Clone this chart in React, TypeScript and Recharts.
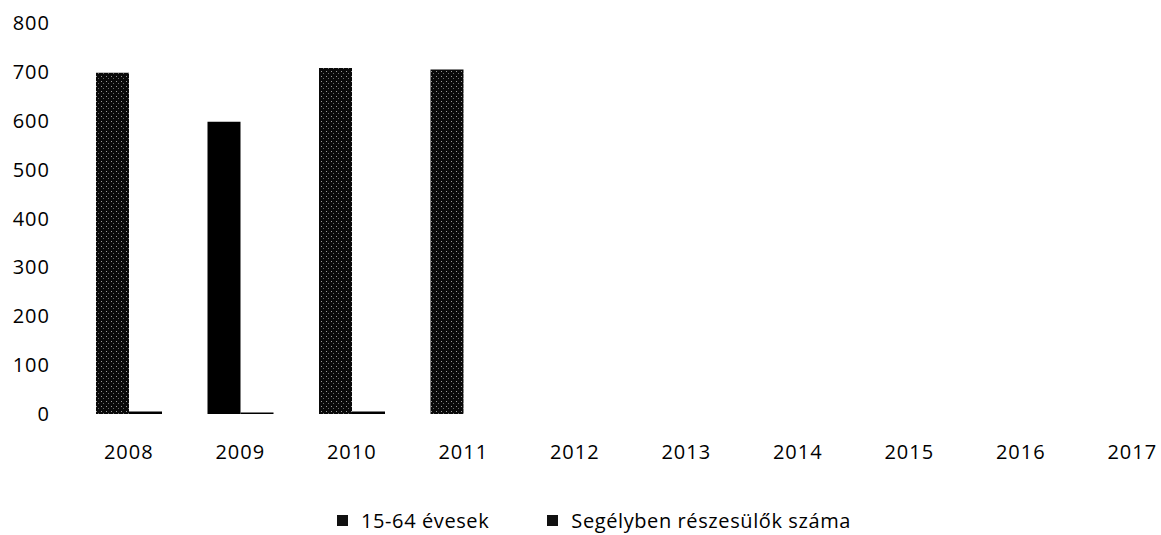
import { BarChart, Bar, XAxis, YAxis, Legend, Cell } from "recharts";

const years = ["2008", "2009", "2010", "2011", "2012", "2013", "2014", "2015", "2016", "2017"];
const aged15to64 = [698, 598, 708, 705, null, null, null, null, null, null];
const recipients = [5, 3, 5, 0, null, null, null, null, null, null];
const yTicks = [0, 100, 200, 300, 400, 500, 600, 700, 800];
const seriesNames = ["15-64 évesek", "Segélyben részesülők száma"];

const FONT = "'Open Sans', sans-serif";

// build the table recharts wants
const data = years.map((year, i) => ({
  year,
  aged: aged15to64[i],
  recip: recipients[i],
}));

const renderLegend = () => (
  <div
    style={{
      display: "flex",
      justifyContent: "center",
      alignItems: "center",
      height: 30,
      fontFamily: FONT,
      fontSize: 20,
      letterSpacing: 0.6,
      color: "#000",
    }}
  >
    {seriesNames.map((name, i) => (
      <div key={name} style={{ display: "flex", alignItems: "center", marginRight: i === 0 ? 58 : 0 }}>
        <span style={{ display: "inline-block", width: 11, height: 11, background: "#111", marginRight: 13 }} />
        <span>{name}</span>
      </div>
    ))}
  </div>
);

export default function App() {
  return (
    <div
      style={{
        position: "absolute",
        left: 0,
        top: 0,
        width: 1161,
        height: 535,
        overflow: "hidden",
        background: "#fff",
      }}
    >
      <BarChart
        width={1200}
        height={535}
        data={data}
        margin={{ top: 23, right: 12, bottom: 0, left: 0 }}
        barGap={0}
        barSize={33}
      >
        <defs>
          <pattern id="dither" width="5" height="5" patternUnits="userSpaceOnUse">
            <rect width="5" height="5" fill="#0a0a0a" />
            <rect x="1" y="1" width="1" height="1" fill="#9a9a9a" />
            <rect x="3" y="3" width="1" height="1" fill="#6a6a6a" />
          </pattern>
        </defs>
        <XAxis
          dataKey="year"
          axisLine={false}
          tickLine={false}
          tickSize={0}
          tickMargin={31}
          height={91}
          interval={0}
          tick={{ fill: "#000", fontFamily: FONT, fontSize: 20, letterSpacing: 1 }}
        />
        <YAxis
          domain={[0, 800]}
          ticks={yTicks}
          width={73}
          axisLine={false}
          tickLine={false}
          tickSize={0}
          tickMargin={23}
          tick={{ fill: "#000", fontFamily: FONT, fontSize: 20, letterSpacing: 1 }}
        />
        <Legend verticalAlign="bottom" height={30} content={renderLegend} />
        <Bar dataKey="aged" name={seriesNames[0]} fill="url(#dither)" isAnimationActive={false}>
          {data.map((entry, index) => (
            <Cell key={`cell-${index}`} fill={entry.year === "2009" ? "#000" : "url(#dither)"} />
          ))}
        </Bar>
        <Bar dataKey="recip" name={seriesNames[1]} fill="#000" isAnimationActive={false} />
      </BarChart>
    </div>
  );
}
